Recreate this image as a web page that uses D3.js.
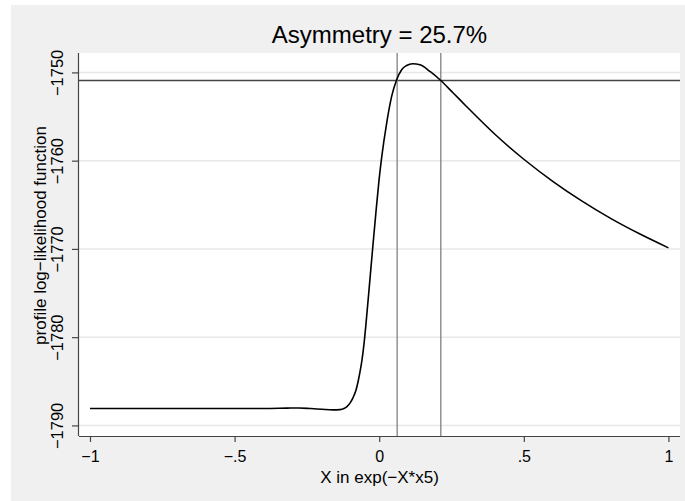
<!DOCTYPE html>
<html>
<head>
<meta charset="utf-8">
<script src="https://cdn.jsdelivr.net/npm/d3@7"></script>
<style>
  html, body { margin: 0; padding: 0; background: #ffffff; }
  svg { display: block; }
  text { font-family: "Liberation Sans", Arial, sans-serif; fill: #000; }
</style>
</head>
<body>
<svg id="chart" width="685" height="501"></svg>
<script>
// ---- data ----
const xValues = [-1.000, -0.800, -0.600, -0.400, -0.319, -0.278, -0.236, -0.198, -0.1599, -0.1357,
  -0.1219, -0.1115, -0.1011, -0.0908, -0.0804, -0.0735, -0.0666, -0.0596, -0.0527, -0.0458,
  -0.0320, -0.0216, -0.0112, -0.0009, 0.0085, 0.0258, 0.0430, 0.0603, 0.0776, 0.0949,
  0.1156, 0.1409, 0.1755, 0.2100, 0.2550, 0.300, 0.400, 0.500, 0.600, 0.700, 0.800, 0.900, 1.000];
const llValues = [-1788.09, -1788.09, -1788.09, -1788.08, -1788.04, -1788.02, -1788.09, -1788.17, -1788.24, -1788.21,
  -1788.09, -1787.87, -1787.47, -1786.87, -1786.02, -1785.11, -1783.97, -1782.61, -1780.79, -1778.52,
  -1773.42, -1769.56, -1765.81, -1762.29, -1759.63, -1755.74, -1752.72, -1750.83, -1749.69, -1749.21,
  -1749.01, -1749.13, -1749.89, -1750.83, -1752.30, -1753.80, -1757.01, -1759.84, -1762.34, -1764.56, -1766.54, -1768.29, -1769.88];
const ciLevel = -1750.92;          // max - 1.92
const ciBounds = [0.062, 0.213];   // vertical lines
const xTicks = [-1, -0.5, 0, 0.5, 1];
const xTickLabels = ["\u22121", "\u2212.5", "0", ".5", "1"];
const yTicks = [-1790, -1780, -1770, -1760, -1750];
const yTickLabels = ["\u22121790", "\u22121780", "\u22121770", "\u22121760", "\u22121750"];
const titleText = "Asymmetry = 25.7%";
const xTitle = "X in exp(\u2212X*x5)";
const yTitle = "profile log\u2212likelihood function";

// ---- layout ----
const svg = d3.select("#chart");
const plot = { left: 79, right: 680, top: 53, bottom: 436 };

svg.append("rect").attr("x", 11).attr("y", 5).attr("width", 674).attr("height", 496)
  .attr("fill", "#f0f0f0");
svg.append("rect").attr("x", plot.left).attr("y", plot.top)
  .attr("width", plot.right - plot.left).attr("height", plot.bottom - plot.top)
  .attr("fill", "#ffffff");

const x = d3.scaleLinear().domain([-1.038, 1.040]).range([plot.left, plot.right]);
const y = d3.scaleLinear().domain([-1791.2, -1747.8]).range([plot.bottom, plot.top]);

// grid
svg.append("g").selectAll("line").data(yTicks).join("line")
  .attr("x1", plot.left).attr("x2", plot.right)
  .attr("y1", d => y(d)).attr("y2", d => y(d))
  .attr("stroke", "#e8e8e8").attr("stroke-width", 1.5);

// reference lines
svg.append("line").attr("x1", plot.left).attr("x2", plot.right)
  .attr("y1", y(ciLevel)).attr("y2", y(ciLevel))
  .attr("stroke", "#444").attr("stroke-width", 1.5);
svg.append("g").selectAll("line").data(ciBounds).join("line")
  .attr("x1", d => x(d)).attr("x2", d => x(d))
  .attr("y1", plot.top).attr("y2", plot.bottom)
  .attr("stroke", "#777").attr("stroke-width", 1.2);

// curve
const pts = xValues.map((v, i) => [v, llValues[i]]);
svg.append("path").datum(pts)
  .attr("fill", "none").attr("stroke", "#000").attr("stroke-width", 1.6)
  .attr("d", d3.line().x(d => x(d[0])).y(d => y(d[1])).curve(d3.curveMonotoneX));

// axes
const xAxis = d3.axisBottom(x).tickValues(xTicks).tickSize(6)
  .tickFormat((d, i) => xTickLabels[i]);
const gx = svg.append("g").attr("transform", `translate(0,${plot.bottom})`).call(xAxis);
gx.select(".domain").attr("d", `M${plot.left},0.5H${plot.right}`).attr("stroke", "#444").attr("stroke-width", 1.2);
gx.selectAll(".tick line").attr("stroke", "#444").attr("stroke-width", 1.2);
gx.selectAll(".tick text").attr("font-size", 16).attr("font-family", "Liberation Sans, Arial, sans-serif").attr("fill", "#000")
  .attr("y", 26).attr("dy", null);

const yAxis = d3.axisLeft(y).tickValues(yTicks).tickSize(7)
  .tickFormat((d, i) => yTickLabels[i]);
const gy = svg.append("g").attr("transform", `translate(${plot.left},0)`).call(yAxis);
gy.select(".domain").attr("d", `M-0.5,${plot.top}V${plot.bottom}`).attr("stroke", "#444").attr("stroke-width", 1.2);
gy.selectAll(".tick line").attr("stroke", "#444").attr("stroke-width", 1.2);
gy.selectAll(".tick text")
  .attr("font-size", 16.5).attr("font-family", "Liberation Sans, Arial, sans-serif").attr("fill", "#000")
  .attr("x", null).attr("dy", null)
  .attr("text-anchor", "middle")
  .attr("transform", "translate(-16,0) rotate(-90)");

// titles
svg.append("text").attr("x", (plot.left + plot.right) / 2).attr("y", 43)
  .attr("text-anchor", "middle").attr("font-size", 24).text(titleText);
svg.append("text").attr("x", (plot.left + plot.right) / 2).attr("y", 483)
  .attr("text-anchor", "middle").attr("font-size", 17).text(xTitle);
svg.append("text").attr("transform", `translate(46,235.5) rotate(-90)`)
  .attr("text-anchor", "middle").attr("font-size", 17).text(yTitle);
</script>
</body>
</html>
